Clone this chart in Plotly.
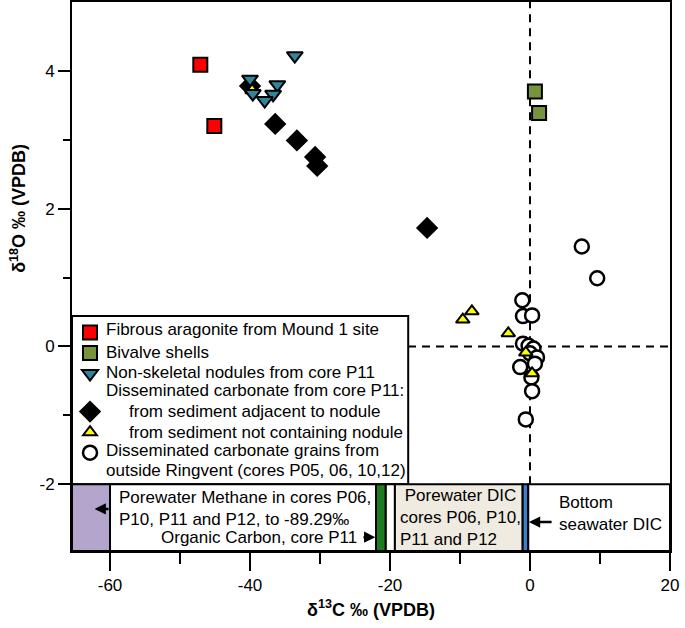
import plotly.graph_objects as go

FONT = "Arial, Liberation Sans, sans-serif"

# --- data (d13C, d18O) ---
red_x = [-47.1, -45.1]
red_y = [4.09, 3.20]

green_x = [0.7, 1.3]
green_y = [3.70, 3.39]

blue_x = [-33.6, -40.0, -36.1, -39.6, -36.7, -37.9]
blue_y = [4.22, 3.88, 3.80, 3.67, 3.66, 3.57]

black_x = [-40.0, -36.4, -33.3, -30.7, -30.4, -14.7]
black_y = [3.78, 3.23, 2.99, 2.75, 2.62, 1.72]

yellow_x = [-39.7, -9.6, -8.3, -3.1, -0.6, 0.3]
yellow_y = [3.72, 0.39, 0.51, 0.19, -0.09, -0.39]

circle_x = [7.4, 9.6, -1.1, -1.0, 0.3, -1.0, -0.2, 0.5, 0.0, 1.0, 0.7, -1.4, 0.2, 0.3, -0.6]
circle_y = [1.45, 0.99, 0.67, 0.44, 0.45, 0.04, 0.01, -0.03, -0.10, -0.16, -0.25, -0.30, -0.45, -0.65, -1.06]

# --- d13C ranges in the strip below the plot ---
band_x0 = [-65.43, -60.0, -22.0, -20.6, -19.3, -1.05, -0.25]
band_x1 = [-60.0, -22.0, -20.6, -19.3, -1.05, -0.25, 20.0]
band_fill = ["#b4a5cc", "white", "#1b7d1f", "white", "#efebe1", "#3d7ec8", "white"]

# legend wording (drawn as text next to the legend symbols)
legend_lines = [
    "Fibrous aragonite from Mound 1 site",
    "Bivalve shells",
    "Non-skeletal nodules from core P11",
    "Disseminated carbonate from core P11:",
    "from sediment adjacent to nodule",
    "from sediment not containing nodule",
    "Disseminated carbonate grains from",
    "outside Ringvent (cores P05, 06, 10,12)",
]
legend_line_y = [0.25, -0.085, -0.38, -0.645, -0.945, -1.245, -1.51, -1.80]
legend_line_x = [-60.86, -60.86, -60.86, -60.86, -57.6, -57.6, -60.86, -60.86]

x_ticks = [-60, -40, -20, 0, 20]
x_ticktext = ["-60", "-40", "-20", "0", "20"]
y_ticks = [-2, 0, 2, 4]
y_ticktext = ["-2", "0", "2", "4"]

X_RANGE = [-65.43, 20]
Y_RANGE = [-2.97, 5.0]
NB = "\u00a0"

fig = go.Figure()


def add(name, x, y, symbol, color, size, rank, lw=2):
    fig.add_trace(go.Scatter(
        x=x, y=y, mode="markers", name=name, legendrank=rank,
        marker=dict(symbol=symbol, color=color, size=size,
                    line=dict(color="black", width=lw)),
    ))


# draw order back to front; the legend order is set by rank.
# legend entries only carry the symbols, the wording is in legend_lines
add(NB + "<br>" + NB, circle_x, circle_y, "circle", "white", 14, 7, lw=2.5)
add(NB, black_x, black_y, "diamond", "black", 15, 5)
add(NB, yellow_x, yellow_y, "triangle-up", "#ffff00", 12, 6)
add(NB + "<br>" + NB, blue_x, blue_y, "triangle-down", "#31849b", 14, 3)
add(NB, red_x, red_y, "square", "#ff0000", 14, 1)
add(NB, green_x, green_y, "square", "#77933c", 14, 2)

shapes = []
# dashed zero lines
shapes.append(dict(type="line", x0=0, x1=0, y0=-2, y1=Y_RANGE[1], layer="below",
                   line=dict(color="black", width=2, dash="8px,6px")))
shapes.append(dict(type="line", x0=X_RANGE[0], x1=X_RANGE[1], y0=0, y1=0, layer="below",
                   line=dict(color="black", width=2, dash="8px,6px")))
# legend frame
shapes.append(dict(type="rect", x0=X_RANGE[0], x1=-17.4, y0=-2, y1=0.44, layer="below",
                   fillcolor="white", line=dict(color="black", width=2)))
# bottom strip
for x0, x1, fc in zip(band_x0, band_x1, band_fill):
    shapes.append(dict(type="rect", x0=x0, x1=x1, y0=Y_RANGE[0], y1=-2, layer="below",
                       fillcolor=fc, line=dict(color="black", width=2)))

txt = dict(family=FONT, size=17, color="black")
annotations = [
    dict(text="<b>δ<sup>18</sup>O ‰ (VPDB)</b>", textangle=-90, xref="paper", x=-0.09,
         xanchor="center", yref="y", y=2.0, yanchor="middle", showarrow=False,
         font=dict(family=FONT, size=18, color="black")),
    dict(text="<b>δ<sup>13</sup>C ‰ (VPDB)</b>", xref="paper", x=0.5, yref="paper", y=-0.104,
         yanchor="middle", showarrow=False, font=dict(family=FONT, size=18, color="black")),
    dict(text="Porewater Methane in cores P06,<br>P10, P11 and P12, to -89.29‰",
         x=-59.0, y=-2.35, xanchor="left", align="left", showarrow=False, font=txt),
    dict(text="Organic Carbon, core P11", x=-24.5, y=-2.77, xanchor="right",
         showarrow=False, font=txt),
    dict(text=NB + "Porewater DIC<br>cores P06, P10,<br>P11 and P12", x=-18.8, y=-2.49,
         xanchor="left", align="left", showarrow=False, font=txt),
    dict(text="Bottom<br>seawater DIC", x=3.8, y=-2.43, xanchor="left", align="left",
         showarrow=False, font=txt),
]
for t, lx, ly in zip(legend_lines, legend_line_x, legend_line_y):
    annotations.append(dict(text=t, x=lx, y=ly, xanchor="left", yanchor="middle",
                            showarrow=False, font=txt))
# arrows: (head x, tail x, y)
for hx, tx, yy in [(-62.2, -60.0, -2.36), (-22.1, -24.0, -2.77), (-0.15, 3.3, -2.55)]:
    annotations.append(dict(text="", x=hx, y=yy, ax=tx, ay=yy, axref="x", ayref="y",
                            showarrow=True, arrowhead=2, arrowsize=0.9, arrowwidth=2.5,
                            arrowcolor="black", standoff=0, startstandoff=0))

axis_common = dict(showline=True, mirror=True, linewidth=2, linecolor="black",
                   showgrid=False, zeroline=False, ticks="outside", tickwidth=2,
                   tickcolor="black", tickfont=dict(family=FONT, size=17, color="black"))

fig.update_layout(
    width=685, height=628,
    margin=dict(l=72, r=15, t=2, b=77, autoexpand=False),
    plot_bgcolor="white", paper_bgcolor="white",
    font=dict(family=FONT, color="black"),
    xaxis=dict(range=X_RANGE, tickvals=x_ticks, ticktext=x_ticktext, ticklen=18,
               minor=dict(tickvals=[-50, -30, -10, 10], ticks="outside", ticklen=11,
                          tickwidth=2, tickcolor="black"),
               **axis_common),
    yaxis=dict(range=Y_RANGE, tickvals=y_ticks, ticktext=y_ticktext, ticklen=12,
               minor=dict(tickvals=[-1, 1, 3], ticks="outside", ticklen=7,
                          tickwidth=2, tickcolor="black"),
               **axis_common),
    showlegend=True,
    legend=dict(x=-0.0033, y=0.426, xanchor="left", yanchor="top", valign="top",
                bgcolor="rgba(0,0,0,0)", borderwidth=0, itemwidth=30,
                font=dict(family=FONT, size=13.5, color="black")),
    shapes=shapes,
    annotations=annotations,
)

# drop the browser's default 8px body margin so the figure sits at the page corner
fig.write_html("out.html", config={"displayModeBar": False},
               post_script="document.body.style.margin = '0';")
